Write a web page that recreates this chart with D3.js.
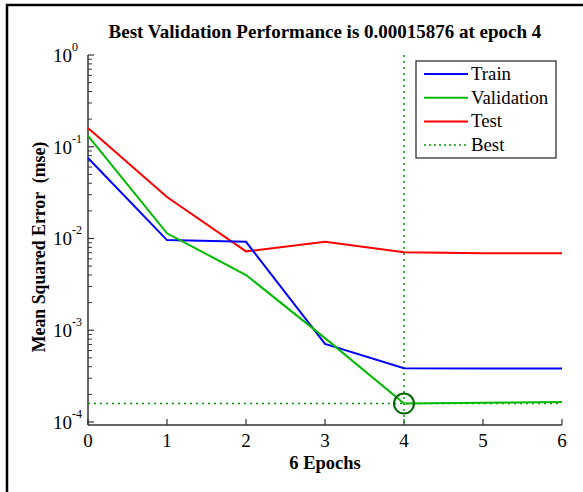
<!DOCTYPE html>
<html><head><meta charset="utf-8">
<script src="https://cdn.jsdelivr.net/npm/d3@7"></script>
<style>body{margin:0;background:#fff}svg{display:block}text{font-family:"Liberation Serif","Times New Roman",Times,"DejaVu Serif",serif}</style>
</head><body>
<script>
const epochs = [0,1,2,3,4,5,6];
const train = [0.0754,0.0096,0.0092,0.00071,0.000385,0.000382,0.000382];
const validation = [0.131,0.0114,0.0040,0.00082,0.00015876,0.000162,0.000165];
const test = [0.160,0.0283,0.00724,0.0092,0.00708,0.0069,0.0069];
const bestEpoch = 4, bestValue = 0.00015876;
const xTicks = [0,1,2,3,4,5,6];
const yTicks = [1,0.1,0.01,0.001,0.0001];
const yExps = ["0","-1","-2","-3","-4"];
const legendLabels = ["Train","Validation","Test","Best"];

const W=583,H=492;
const svg=d3.select("body").append("svg").attr("width",W).attr("height",H);
svg.append("line").attr("x1",7).attr("x2",7).attr("y1",4).attr("y2",H).attr("stroke","#000").attr("stroke-width",2.5);
svg.append("line").attr("x1",6).attr("x2",W).attr("y1",5).attr("y2",5).attr("stroke","#000").attr("stroke-width",2.5);

const x=d3.scaleLinear().domain([0,6]).range([88,562]);
const y=d3.scaleLog().domain([9.27e-5,1]).range([425,55]);

const axisColor="#333";
svg.append("line").attr("x1",88).attr("x2",88).attr("y1",55).attr("y2",425).attr("stroke",axisColor).attr("stroke-width",1.5);
svg.append("line").attr("x1",88).attr("x2",562).attr("y1",425).attr("y2",425).attr("stroke",axisColor).attr("stroke-width",1.5);
for(let e=-4;e<0;e++){for(let m=2;m<=9;m++){const v=m*Math.pow(10,e);
 svg.append("line").attr("x1",88).attr("x2",92).attr("y1",y(v)).attr("y2",y(v)).attr("stroke",axisColor).attr("stroke-width",1);}}
yTicks.forEach((v,i)=>{
 svg.append("line").attr("x1",88).attr("x2",94).attr("y1",y(v)).attr("y2",y(v)).attr("stroke",axisColor).attr("stroke-width",1.2);
 svg.append("text").attr("x",72).attr("y",y(v)+7).attr("text-anchor","end").attr("font-size",19).attr("fill","#000").text("10");
 svg.append("text").attr("x",72).attr("y",y(v)-4).attr("font-size",12).attr("fill","#000").text(yExps[i]);
});
xTicks.forEach(v=>{
 svg.append("line").attr("x1",x(v)).attr("x2",x(v)).attr("y1",425).attr("y2",419).attr("stroke",axisColor).attr("stroke-width",1.2);
 svg.append("text").attr("x",x(v)).attr("y",447).attr("text-anchor","middle").attr("font-size",19).attr("fill","#000").text(v);
});

const bestColor="#009900";
svg.append("line").attr("x1",x(bestEpoch)).attr("x2",x(bestEpoch)).attr("y1",55).attr("y2",425).attr("stroke",bestColor).attr("stroke-width",1.5).attr("stroke-dasharray","2,4");
svg.append("line").attr("x1",x(0)).attr("x2",x(6)).attr("y1",y(bestValue)).attr("y2",y(bestValue)).attr("stroke",bestColor).attr("stroke-width",1.5).attr("stroke-dasharray","2,4");

const line=d3.line().x((d,i)=>x(epochs[i])).y(d=>y(d));
[[test,"#ff0000"],[train,"#0000ff"],[validation,"#00bb00"]].forEach(([s,c])=>{
 svg.append("path").attr("d",line(s)).attr("fill","none").attr("stroke",c).attr("stroke-width",2);
});
svg.append("circle").attr("cx",x(bestEpoch)).attr("cy",y(bestValue)).attr("r",10).attr("fill","none").attr("stroke","#006600").attr("stroke-width",2);

svg.append("text").attr("x",325).attr("y",38).attr("text-anchor","middle").attr("font-weight","bold").attr("font-size",19).attr("fill","#000").text("Best Validation Performance is 0.00015876 at epoch 4");
svg.append("text").attr("x",325).attr("y",469).attr("text-anchor","middle").attr("font-weight","bold").attr("font-size",18.5).attr("fill","#000").text("6 Epochs");
svg.append("text").attr("transform","translate(45,247) rotate(-90)").attr("text-anchor","middle").attr("font-weight","bold").attr("font-size",17.8).attr("fill","#000").attr("xml:space","preserve").text("Mean Squared Error  (mse)");

const lg=svg.append("g");
lg.append("rect").attr("x",416).attr("y",61).attr("width",140).attr("height",97).attr("fill","#fff").attr("stroke","#222").attr("stroke-width",1.2);
const lcol=["#0000ff","#00bb00","#ff0000",bestColor];
legendLabels.forEach((l,i)=>{
 const yy=74+i*23.7;
 lg.append("line").attr("x1",424).attr("x2",468).attr("y1",yy).attr("y2",yy).attr("stroke",lcol[i]).attr("stroke-width",i==3?1.5:2).attr("stroke-dasharray",i==3?"2,3":null);
 lg.append("text").attr("x",471).attr("y",yy+6).attr("font-size",18.8).attr("fill","#000").text(l);
});
</script>
</body></html>
